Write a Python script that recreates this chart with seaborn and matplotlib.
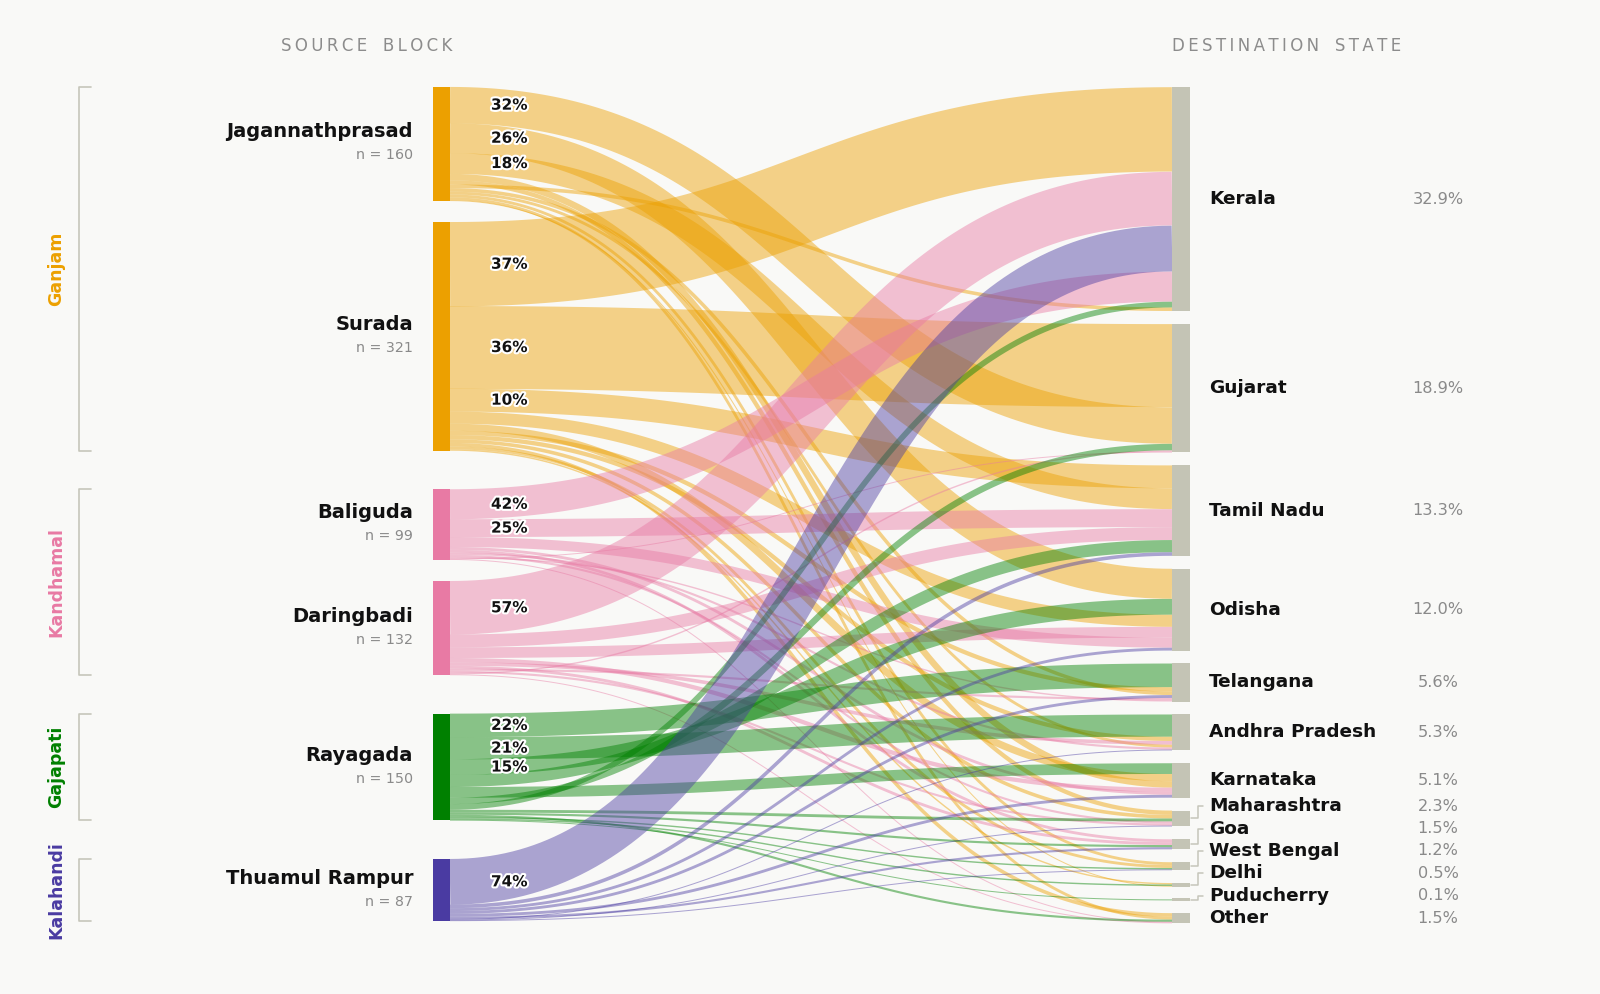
import numpy as np
import pandas as pd
import matplotlib
matplotlib.use('Agg')
import matplotlib.pyplot as plt
import matplotlib.patheffects as pe
import seaborn as sns

# Data
sources = ['Jagannathprasad', 'Surada', 'Baliguda', 'Daringbadi', 'Rayagada', 'Thuamul Rampur']
source_group = ['Ganjam', 'Ganjam', 'Kandhamal', 'Kandhamal', 'Gajapati', 'Kalahandi']
groups = ['Ganjam', 'Kandhamal', 'Gajapati', 'Kalahandi']
group_colors = ['#ECA000', '#E87AA4', '#008000', '#4A3BA2']
destinations = ['Kerala', 'Gujarat', 'Tamil Nadu', 'Odisha', 'Telangana', 'Andhra Pradesh',
                'Karnataka', 'Maharashtra', 'Goa', 'West Bengal', 'Delhi', 'Puducherry', 'Other']

# migrants per destination, one list per source block (same order as destinations)
jagannathprasad = [5, 51, 29, 42, 5, 4, 9, 6, 0, 4, 1, 0, 4]
surada = [118, 116, 32, 17, 6, 6, 10, 5, 0, 4, 2, 0, 5]
baliguda = [42, 1, 25, 14, 2, 3, 4, 3, 4, 0, 0, 0, 1]
daringbadi = [75, 2, 18, 15, 3, 5, 6, 3, 4, 0, 0, 0, 1]
rayagada = [8, 9, 17, 22, 33, 31, 15, 4, 3, 2, 2, 1, 3]
thuamul_rampur = [64, 0, 5, 4, 4, 1, 4, 1, 3, 1, 0, 0, 0]

flows = pd.DataFrame([jagannathprasad, surada, baliguda, daringbadi, rayagada, thuamul_rampur],
                     index=sources, columns=destinations)

sns.set_theme(style='white')
plt.rcParams['font.family'] = ['DejaVu Sans']

bg = '#F9F9F7'
dest_color = '#C4C4B5'
bracket_color = '#C6C6BA'
pal = dict(zip(groups, sns.color_palette(group_colors)))

fig = plt.figure(figsize=(16, 9.94), dpi=100, facecolor=bg)
ax = fig.add_axes([0, 0, 1, 1])
ax.set_facecolor(bg)
ax.set_xlim(0, 1600)
ax.set_ylim(994, 0)
ax.axis('off')

# Layout
top = 87
src_bottom, dst_bottom = 921, 923.2
sx0, sx1 = 433, 450
dx0, dx1 = 1172, 1189.5
dest_gap = 12.9
inner_gap, outer_gap = 21.3, 38.6

src_tot = flows.sum(axis=1)
dst_tot = flows.sum(axis=0)
N = flows.values.sum()

n_inner = sum(1 for i in range(1, len(sources)) if source_group[i] == source_group[i - 1])
n_outer = len(sources) - 1 - n_inner
ks = (src_bottom - top - inner_gap * n_inner - outer_gap * n_outer) / N
kd = (dst_bottom - top - dest_gap * (len(destinations) - 1)) / N

src_y = {}
y = top
for i, s in enumerate(sources):
    if i > 0:
        y += inner_gap if source_group[i] == source_group[i - 1] else outer_gap
    src_y[s] = (y, y + src_tot[s] * ks)
    y += src_tot[s] * ks

dst_y = {}
y = top
for j, d in enumerate(destinations):
    if j > 0:
        y += dest_gap
    dst_y[d] = (y, y + dst_tot[d] * kd)
    y += dst_tot[d] * kd

# stack flows: largest first at both ends
src_off = {}
for i, s in enumerate(sources):
    y = src_y[s][0]
    order = sorted(range(len(destinations)), key=lambda j: (-flows.iloc[i, j], j))
    for j in order:
        v = flows.iloc[i, j]
        src_off[(s, destinations[j])] = (y, y + v * ks)
        y += v * ks

dst_off = {}
for j, d in enumerate(destinations):
    y = dst_y[d][0]
    order = sorted(range(len(sources)), key=lambda i: (-flows.iloc[i, j], i))
    for i in order:
        v = flows.iloc[i, j]
        dst_off[(sources[i], d)] = (y, y + v * kd)
        y += v * kd

# Ribbons
t = np.linspace(0, 1, 120)
xm = (sx1 + dx0) / 2
xs = (1 - t) ** 3 * sx1 + 3 * (1 - t) ** 2 * t * xm + 3 * (1 - t) * t ** 2 * xm + t ** 3 * dx0
for i, s in enumerate(sources):
    c = pal[source_group[i]]
    for j, d in enumerate(destinations):
        v = flows.iloc[i, j]
        if v <= 0:
            continue
        a0, a1 = src_off[(s, d)]
        b0, b1 = dst_off[(s, d)]
        ya, yb = (a0 + a1) / 2, (b0 + b1) / 2
        ys = (1 - t) ** 3 * ya + 3 * (1 - t) ** 2 * t * ya + 3 * (1 - t) * t ** 2 * yb + t ** 3 * yb
        w = max(v * (ks + kd) / 2, 1.0)
        ax.plot(xs, ys, color=c, alpha=0.45, lw=w * 0.72, solid_capstyle='butt', zorder=2)

# Source nodes and labels
for i, s in enumerate(sources):
    y0, y1 = src_y[s]
    c = pal[source_group[i]]
    ax.fill_between([sx0, sx1], y0, y1, color=c, lw=0, zorder=3)
    yc = (y0 + y1) / 2
    ax.text(413, yc - 12, s, ha='right', va='center', fontsize=14, fontweight='bold', color='#111111')
    ax.text(413, yc + 11.5, f'n = {src_tot[s]}', ha='right', va='center', fontsize=10.3, color='#8A8A8A')
    order = sorted(range(len(destinations)), key=lambda j: (-flows.iloc[i, j], j))
    for j in order[:3]:
        v = flows.iloc[i, j]
        if v < 20:
            continue
        a0, a1 = src_off[(s, destinations[j])]
        ax.text(491, (a0 + a1) / 2, f'{round(v / src_tot[s] * 100)}%', ha='left', va='center',
                fontsize=11, fontweight='bold', color='#111111', zorder=5,
                path_effects=[pe.withStroke(linewidth=3, foreground='white')])

# Group brackets
for g in groups:
    members = [s for s, sg in zip(sources, source_group) if sg == g]
    g0, g1 = src_y[members[0]][0], src_y[members[-1]][1]
    ax.plot([91, 78.5, 78.5, 91], [g0, g0, g1, g1], color=bracket_color, lw=1.2, zorder=1)
    ax.text(56, (g0 + g1) / 2, g, rotation=90, ha='center', va='center', fontsize=12.5,
            fontweight='bold', color=pal[g])

# Destination nodes and labels
centers = [(dst_y[d][0] + dst_y[d][1]) / 2 for d in destinations]
label_y = list(centers)
for j in range(len(destinations) - 2, -1, -1):
    label_y[j] = min(centers[j], label_y[j + 1] - 22.4)

for j, d in enumerate(destinations):
    y0, y1 = dst_y[d]
    if y1 - y0 < 3:
        m = (y0 + y1) / 2
        y0, y1 = m - 1.6, m + 1.6
    ax.fill_between([dx0, dx1], y0, y1, color=dest_color, lw=0, zorder=3)
    ly = label_y[j]
    if abs(ly - centers[j]) > 3:
        ax.plot([1191, 1197.5, 1197.5, 1203], [centers[j], centers[j], ly, ly],
                color=bracket_color, lw=1.1, zorder=1)
    ax.text(1209, ly, d, ha='left', va='center', fontsize=13.3, fontweight='bold', color='#111111')
    ax.text(1438, ly, f'{dst_tot[d] / N * 100:.1f}%', ha='center', va='center',
            fontsize=11.6, color='#8A8A8A')

# Column headers (letter-spaced)
def spaced(text):
    return '   '.join('\u2009'.join(w) for w in text.split())

ax.text(452, 46, spaced('SOURCE BLOCK'), ha='right', va='center', fontsize=12, color='#8C8C8C')
ax.text(1172, 46, spaced('DESTINATION STATE'), ha='left', va='center', fontsize=12, color='#8C8C8C')

fig.savefig('out.png', dpi=100, facecolor=bg)
